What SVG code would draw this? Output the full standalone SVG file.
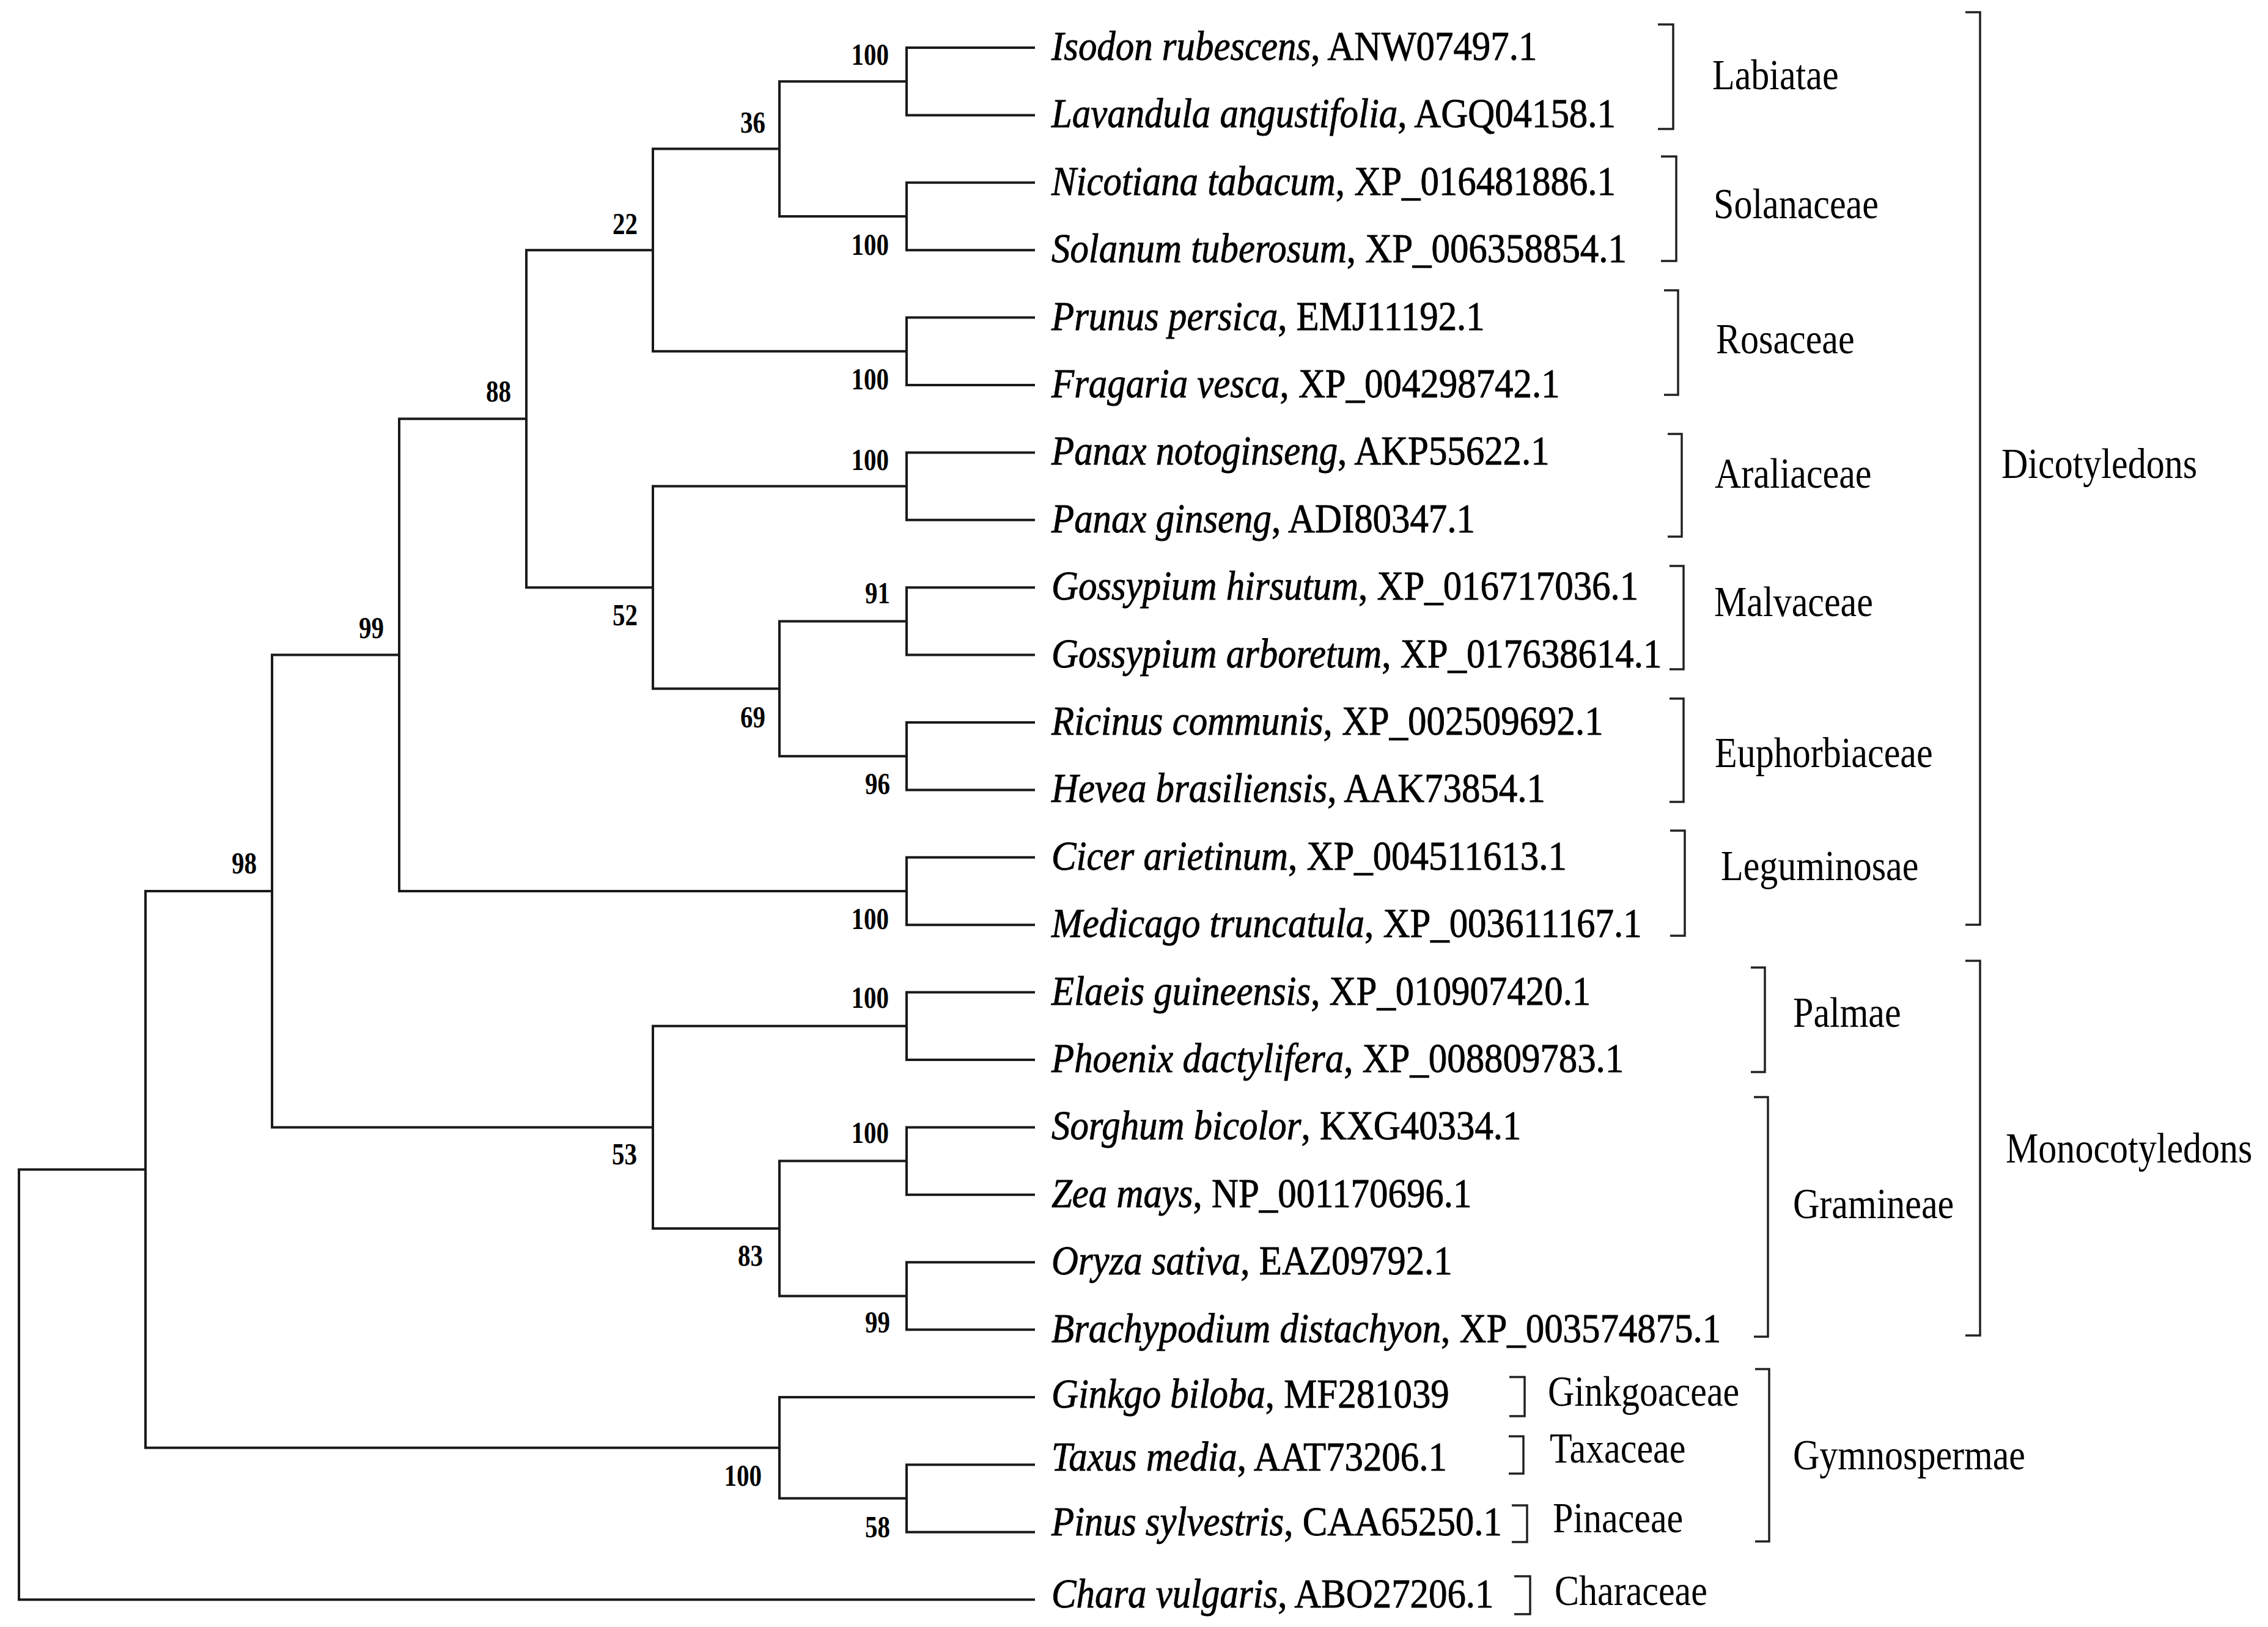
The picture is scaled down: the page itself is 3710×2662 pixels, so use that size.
<svg xmlns="http://www.w3.org/2000/svg" width="3710" height="2662" viewBox="0 0 3710 2662">
<style>
.tr{fill:none;stroke:#1a1a1a;stroke-width:4;stroke-linecap:square;stroke-linejoin:miter}
.bk{fill:none;stroke:#222;stroke-width:3.5}
text{font-family:"Liberation Serif","Times New Roman",serif;fill:#000}
.lf{font-size:68px;stroke:#000;stroke-width:0.9}
.fm{font-size:69px}
.bs{font-size:50px;font-weight:bold;text-anchor:end}
.it{font-style:italic}
</style>
<rect width="3710" height="2662" fill="#fff"/>
<g id="connectors">
<path class="tr" d="M1691,78 H1483 V188.4 H1691"/>
<path class="tr" d="M1691,298.8 H1483 V409.2 H1691"/>
<path class="tr" d="M1691,519.6 H1483 V630 H1691"/>
<path class="tr" d="M1691,740.4 H1483 V850.8 H1691"/>
<path class="tr" d="M1691,961.2 H1483 V1071.6 H1691"/>
<path class="tr" d="M1691,1182 H1483 V1292.4 H1691"/>
<path class="tr" d="M1691,1402.8 H1483 V1513.2 H1691"/>
<path class="tr" d="M1691,1623.6 H1483 V1734 H1691"/>
<path class="tr" d="M1691,1844.4 H1483 V1954.8 H1691"/>
<path class="tr" d="M1691,2065.2 H1483 V2175.6 H1691"/>
<path class="tr" d="M1691,2396.4 H1483 V2506.8 H1691"/>
<path class="tr" d="M1483,133.2 H1275 V354 H1483"/>
<path class="tr" d="M1275,243.6 H1068 V574.8 H1483"/>
<path class="tr" d="M1483,1016.4 H1275 V1237.2 H1483"/>
<path class="tr" d="M1483,795.6 H1068 V1126.8 H1275"/>
<path class="tr" d="M1068,409.2 H861 V961.2 H1068"/>
<path class="tr" d="M861,685.2 H653 V1458 H1483"/>
<path class="tr" d="M1483,1899.6 H1275 V2120.4 H1483"/>
<path class="tr" d="M1483,1678.8 H1068 V2010 H1275"/>
<path class="tr" d="M653,1071.6 H445 V1844.4 H1068"/>
<path class="tr" d="M1691,2286 H1275 V2451.6 H1483"/>
<path class="tr" d="M445,1458 H238 V2368.8 H1275"/>
<path class="tr" d="M238,1913.4 H31 V2617.2 H1691"/>
</g>
<g id="bootstrap">
<text class="bs" transform="translate(1454,106) scale(0.82,1)">100</text>
<text class="bs" transform="translate(1454,417) scale(0.82,1)">100</text>
<text class="bs" transform="translate(1454,637) scale(0.82,1)">100</text>
<text class="bs" transform="translate(1454,769) scale(0.82,1)">100</text>
<text class="bs" transform="translate(1456,987) scale(0.82,1)">91</text>
<text class="bs" transform="translate(1456,1299) scale(0.82,1)">96</text>
<text class="bs" transform="translate(1454,1520) scale(0.82,1)">100</text>
<text class="bs" transform="translate(1454,1649) scale(0.82,1)">100</text>
<text class="bs" transform="translate(1454,1870) scale(0.82,1)">100</text>
<text class="bs" transform="translate(1456,2180) scale(0.82,1)">99</text>
<text class="bs" transform="translate(1456,2515) scale(0.82,1)">58</text>
<text class="bs" transform="translate(1252,217) scale(0.82,1)">36</text>
<text class="bs" transform="translate(1043,383) scale(0.82,1)">22</text>
<text class="bs" transform="translate(836,657) scale(0.82,1)">88</text>
<text class="bs" transform="translate(1043,1023) scale(0.82,1)">52</text>
<text class="bs" transform="translate(1252,1190) scale(0.82,1)">69</text>
<text class="bs" transform="translate(628,1044) scale(0.82,1)">99</text>
<text class="bs" transform="translate(420,1429) scale(0.82,1)">98</text>
<text class="bs" transform="translate(1042,1905) scale(0.82,1)">53</text>
<text class="bs" transform="translate(1248,2071) scale(0.82,1)">83</text>
<text class="bs" transform="translate(1246,2431) scale(0.82,1)">100</text>
</g>
<g id="leaf-isodon"><text class="lf" transform="translate(1720,98) scale(0.895,1)"><tspan class="it">Isodon rubescens</tspan>, ANW07497.1</text></g>
<g id="leaf-lavandula"><text class="lf" transform="translate(1720,208.4) scale(0.895,1)"><tspan class="it">Lavandula angustifolia</tspan>, AGQ04158.1</text></g>
<g id="leaf-nicotiana"><text class="lf" transform="translate(1720,318.8) scale(0.895,1)"><tspan class="it">Nicotiana tabacum</tspan>, XP_016481886.1</text></g>
<g id="leaf-solanum"><text class="lf" transform="translate(1720,429.2) scale(0.895,1)"><tspan class="it">Solanum tuberosum</tspan>, XP_006358854.1</text></g>
<g id="leaf-prunus"><text class="lf" transform="translate(1720,539.6) scale(0.895,1)"><tspan class="it">Prunus persica</tspan>, EMJ11192.1</text></g>
<g id="leaf-fragaria"><text class="lf" transform="translate(1720,650) scale(0.895,1)"><tspan class="it">Fragaria vesca</tspan>, XP_004298742.1</text></g>
<g id="leaf-panax-noto"><text class="lf" transform="translate(1720,760.4) scale(0.895,1)"><tspan class="it">Panax notoginseng</tspan>, AKP55622.1</text></g>
<g id="leaf-panax-ginseng"><text class="lf" transform="translate(1720,870.8) scale(0.895,1)"><tspan class="it">Panax ginseng</tspan>, ADI80347.1</text></g>
<g id="leaf-gossypium-h"><text class="lf" transform="translate(1720,981.2) scale(0.895,1)"><tspan class="it">Gossypium hirsutum</tspan>, XP_016717036.1</text></g>
<g id="leaf-gossypium-a"><text class="lf" transform="translate(1720,1091.6) scale(0.895,1)"><tspan class="it">Gossypium arboretum</tspan>, XP_017638614.1</text></g>
<g id="leaf-ricinus"><text class="lf" transform="translate(1720,1202) scale(0.895,1)"><tspan class="it">Ricinus communis</tspan>, XP_002509692.1</text></g>
<g id="leaf-hevea"><text class="lf" transform="translate(1720,1312.4) scale(0.895,1)"><tspan class="it">Hevea brasiliensis</tspan>, AAK73854.1</text></g>
<g id="leaf-cicer"><text class="lf" transform="translate(1720,1422.8) scale(0.895,1)"><tspan class="it">Cicer arietinum</tspan>, XP_004511613.1</text></g>
<g id="leaf-medicago"><text class="lf" transform="translate(1720,1533.2) scale(0.895,1)"><tspan class="it">Medicago truncatula</tspan>, XP_003611167.1</text></g>
<g id="leaf-elaeis"><text class="lf" transform="translate(1720,1643.6) scale(0.895,1)"><tspan class="it">Elaeis guineensis</tspan>, XP_010907420.1</text></g>
<g id="leaf-phoenix"><text class="lf" transform="translate(1720,1754) scale(0.895,1)"><tspan class="it">Phoenix dactylifera</tspan>, XP_008809783.1</text></g>
<g id="leaf-sorghum"><text class="lf" transform="translate(1720,1864.4) scale(0.895,1)"><tspan class="it">Sorghum bicolor</tspan>, KXG40334.1</text></g>
<g id="leaf-zea"><text class="lf" transform="translate(1720,1974.8) scale(0.895,1)"><tspan class="it">Zea mays</tspan>, NP_001170696.1</text></g>
<g id="leaf-oryza"><text class="lf" transform="translate(1720,2085.2) scale(0.895,1)"><tspan class="it">Oryza sativa</tspan>, EAZ09792.1</text></g>
<g id="leaf-brachypodium"><text class="lf" transform="translate(1720,2195.6) scale(0.895,1)"><tspan class="it">Brachypodium distachyon</tspan>, XP_003574875.1</text></g>
<g id="leaf-ginkgo"><text class="lf" transform="translate(1720,2303) scale(0.895,1)"><tspan class="it">Ginkgo biloba</tspan>, MF281039</text></g>
<g id="leaf-taxus"><text class="lf" transform="translate(1720,2406) scale(0.895,1)"><tspan class="it">Taxus media</tspan>, AAT73206.1</text></g>
<g id="leaf-pinus"><text class="lf" transform="translate(1720,2512) scale(0.895,1)"><tspan class="it">Pinus sylvestris</tspan>, CAA65250.1</text></g>
<g id="leaf-chara"><text class="lf" transform="translate(1720,2630) scale(0.895,1)"><tspan class="it">Chara vulgaris</tspan>, ABO27206.1</text></g>
<g id="clade-labiatae"><path class="bk" d="M2712,40 H2737 V211 H2712"/><text class="fm" transform="translate(2801,146) scale(0.87,1)">Labiatae</text></g>
<g id="clade-solanaceae"><path class="bk" d="M2717,256 H2742 V427 H2717"/><text class="fm" transform="translate(2803,357) scale(0.87,1)">Solanaceae</text></g>
<g id="clade-rosaceae"><path class="bk" d="M2722,475 H2745 V646 H2722"/><text class="fm" transform="translate(2807,578) scale(0.87,1)">Rosaceae</text></g>
<g id="clade-araliaceae"><path class="bk" d="M2728,710 H2751 V878 H2728"/><text class="fm" transform="translate(2805,798) scale(0.87,1)">Araliaceae</text></g>
<g id="clade-malvaceae"><path class="bk" d="M2731,926 H2754 V1095 H2731"/><text class="fm" transform="translate(2804,1008) scale(0.87,1)">Malvaceae</text></g>
<g id="clade-euphorbiaceae"><path class="bk" d="M2731,1143 H2754 V1312 H2731"/><text class="fm" transform="translate(2805,1255) scale(0.87,1)">Euphorbiaceae</text></g>
<g id="clade-leguminosae"><path class="bk" d="M2732,1359 H2756 V1531 H2732"/><text class="fm" transform="translate(2815,1440) scale(0.87,1)">Leguminosae</text></g>
<g id="clade-palmae"><path class="bk" d="M2864,1583 H2887 V1754 H2864"/><text class="fm" transform="translate(2933,1680) scale(0.87,1)">Palmae</text></g>
<g id="clade-gramineae"><path class="bk" d="M2869,1795 H2892 V2187 H2869"/><text class="fm" transform="translate(2933,1993) scale(0.87,1)">Gramineae</text></g>
<g id="clade-dicotyledons"><path class="bk" d="M3215,20 H3239 V1513 H3215"/><text class="fm" transform="translate(3274,782) scale(0.87,1)">Dicotyledons</text></g>
<g id="clade-monocotyledons"><path class="bk" d="M3215,1572 H3239 V2185 H3215"/><text class="fm" transform="translate(3281,1902) scale(0.87,1)">Monocotyledons</text></g>
<g id="clade-gymnospermae"><path class="bk" d="M2871,2240 H2894 V2522 H2871"/><text class="fm" transform="translate(2933,2404) scale(0.87,1)">Gymnospermae</text></g>
<g id="clade-ginkgoaceae"><path class="bk" d="M2469,2253 H2494 V2317 H2469"/><text class="fm" transform="translate(2532,2300) scale(0.87,1)">Ginkgoaceae</text></g>
<g id="clade-taxaceae"><path class="bk" d="M2468,2350 H2492 V2411 H2468"/><text class="fm" transform="translate(2535,2393) scale(0.87,1)">Taxaceae</text></g>
<g id="clade-pinaceae"><path class="bk" d="M2473,2463 H2498 V2523 H2473"/><text class="fm" transform="translate(2540,2507) scale(0.87,1)">Pinaceae</text></g>
<g id="clade-characeae"><path class="bk" d="M2477,2579 H2503 V2641 H2477"/><text class="fm" transform="translate(2543,2626) scale(0.87,1)">Characeae</text></g>
</svg>
